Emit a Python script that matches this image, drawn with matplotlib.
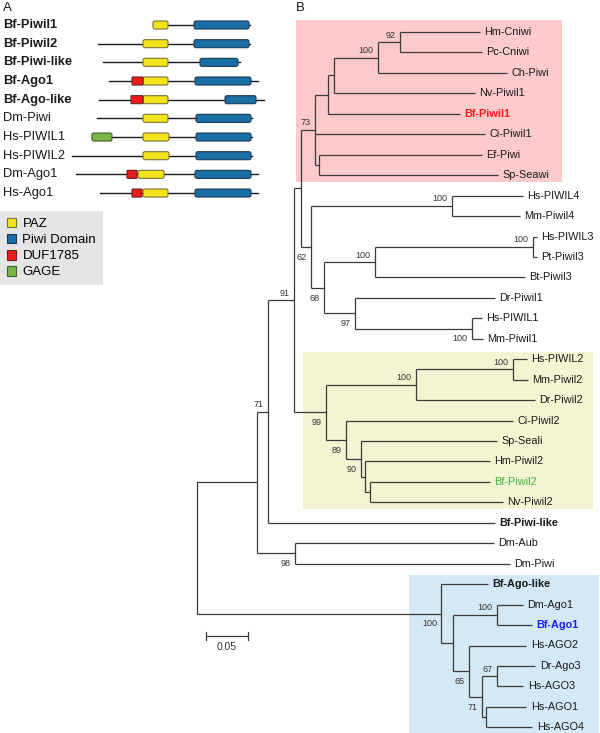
import matplotlib
matplotlib.use('Agg')
import matplotlib.pyplot as plt
from matplotlib.patches import FancyBboxPatch, Rectangle, Patch

plt.rcParams['font.family'] = ['Liberation Sans', 'DejaVu Sans']

# ---- panel A: domain architecture (positions in diagram units) ----
proteins = ['Bf-Piwil1', 'Bf-Piwil2', 'Bf-Piwi-like', 'Bf-Ago1', 'Bf-Ago-like',
            'Dm-Piwi', 'Hs-PIWIL1', 'Hs-PIWIL2', 'Dm-Ago1', 'Hs-Ago1']
bold_proteins = ['Bf-Piwil1', 'Bf-Piwil2', 'Bf-Piwi-like', 'Bf-Ago1', 'Bf-Ago-like']
seq_start = [153, 98, 103, 109, 99, 97, 92, 72, 76, 100]
seq_end = [250, 250, 240, 258, 264, 252, 252, 252, 258, 258]
paz = [(153, 168), (143, 168), (143, 168), (143, 168), (143, 168),
       (143, 168), (143, 169), (143, 169), (138, 164), (143, 168)]
piwi = [(194, 249), (194, 249), (200, 238), (195, 251), (225, 256),
        (196, 251), (196, 251), (196, 251), (195, 251), (195, 251)]
duf1785 = {'Bf-Ago1': (132, 143), 'Bf-Ago-like': (131, 143),
           'Dm-Ago1': (127, 137), 'Hs-Ago1': (132, 142)}
gage = {'Hs-PIWIL1': (92, 112)}

domain_names = ['PAZ', 'Piwi Domain', 'DUF1785', 'GAGE']
domain_colors = ['#f3e31c', '#1a6fa6', '#ee1b1b', '#7ab745']
domain_edges = ['#7d7530', '#1c3a55', '#6e1d1d', '#40602a']

# ---- panel B: neighbour-joining tree, bootstrap values as node labels ----
tree_newick = (
    "((((((((((Hm-Cniwi:0.0939,Pc-Cniwi:0.0962)92:0.0258,Ch-Piwi:0.1514)100:0.0516,"
    "Nv-Piwil1:0.1655):0.0070,Bf-Piwil1:0.1549):0.0153,Ci-Piwil1:0.1995,"
    "(Ef-Piwi:0.1913,Sp-Seawi:0.2101):0.0047)73:0.0164,"
    "((Hs-PIWIL4:0.0833,Mm-Piwil4:0.0798)100:0.1655,"
    "(((Hs-PIWIL3:0.0047,Pt-Piwil3:0.0047)100:0.1854,Bt-Piwil3:0.1761)100:0.0599,"
    "(Dr-Piwil1:0.1643,(Hs-PIWIL1:0.0117,Mm-Piwil1:0.0129)100:0.1373)97:0.0364)68:0.0153)62:0.0117):0.0082,"
    "(((Hs-PIWIL2:0.0164,Mm-Piwil2:0.0176)100:0.1138,Dr-Piwil2:0.1397)100:0.1056,"
    "(Ci-Piwil2:0.1960,(Sp-Seali:0.1596,(Hm-Piwil2:0.1467,(Bf-Piwil2:0.1408,"
    "Nv-Piwil2:0.1561):0.0059):0.0047)90:0.0176)89:0.0235)99:0.0376)91:0.0305,"
    "Bf-Piwi-like:0.2664)71:0.0129,(Dm-Aub:0.2336,Dm-Piwi:0.2523)98:0.0446):0.0704,"
    "(Bf-Ago-like:0.0552,((Dm-Ago1:0.0305,Bf-Ago1:0.0411)100:0.0516,"
    "(Hs-AGO2:0.0669,((Dr-Ago3:0.0446,Hs-AGO3:0.0305)67:0.0176,"
    "(Hs-AGO1:0.0469,Hs-AGO4:0.0540):0.0047)71:0.0153)65:0.0188):0.0141)100:0.2864);"
)
label_colors = {'Bf-Piwil1': '#ff1a1a', 'Bf-Piwil2': '#3db53d', 'Bf-Ago1': '#1a1aff'}
bold_leaves = ['Bf-Piwil1', 'Bf-Ago1', 'Bf-Piwi-like', 'Bf-Ago-like']

# clade highlights: first leaf, last leaf, colour, x-left, x-right, top pad, bottom pad
clades = [('Hm-Cniwi', 'Sp-Seawi', '#fccaca', 0.1162, 0.4284, 0.6, 0.33),
          ('Hs-PIWIL2', 'Nv-Piwil2', '#f4f4d2', 0.1244, 0.4648, 0.37, 0.33),
          ('Bf-Ago-like', 'Hs-AGO4', '#d3e9f5', 0.2488, 0.4718, 0.46, 0.33)]
scale_len = 0.05


def parse_newick(s):
    s = s.strip().rstrip(';')
    pos = 0

    def node():
        nonlocal pos
        children = []
        if s[pos] == '(':
            pos += 1
            children.append(node())
            while s[pos] == ',':
                pos += 1
                children.append(node())
            pos += 1
        start = pos
        while pos < len(s) and s[pos] not in ',():':
            pos += 1
        name = s[start:pos]
        length = 0.0
        if pos < len(s) and s[pos] == ':':
            pos += 1
            start = pos
            while pos < len(s) and s[pos] not in ',()':
                pos += 1
            length = float(s[start:pos])
        return {'name': name, 'len': length, 'children': children}

    return node()


leaves = []


def layout(n, x0):
    n['x'] = x0 + n['len']
    if not n['children']:
        n['y'] = len(leaves)
        leaves.append(n)
    else:
        for c in n['children']:
            layout(c, n['x'])
        n['y'] = (n['children'][0]['y'] + n['children'][-1]['y']) / 2


line_c = '#3a3a3a'


def draw(ax, n, parent_x, where):
    ax.plot([parent_x, n['x']], [n['y'], n['y']], color=line_c, lw=0.9,
            solid_capstyle='butt', zorder=3)
    if n['children']:
        ax.plot([n['x'], n['x']], [n['children'][0]['y'], n['children'][-1]['y']],
                color=line_c, lw=0.9, solid_capstyle='butt', zorder=3)
        if n['name'] and where != 'mid':
            dy = 5 if where == 'above' else -7.5
            ax.annotate(n['name'], (n['x'], n['y']), xytext=(-3, dy),
                        textcoords='offset points', ha='right', va='center',
                        fontsize=6.5, color='#333333', zorder=4)
        k = len(n['children'])
        for i, c in enumerate(n['children']):
            pos = 'above' if i == 0 else ('below' if i == k - 1 else 'mid')
            draw(ax, c, n['x'], pos)
    else:
        ax.annotate(n['name'], (n['x'], n['y']), xytext=(3.3, 0),
                    textcoords='offset points', ha='left', va='center',
                    fontsize=7.8, color=label_colors.get(n['name'], '#1a1a1a'),
                    fontweight='bold' if n['name'] in bold_leaves else 'normal',
                    zorder=4)


fig = plt.figure(figsize=(6, 7.33), dpi=100)

# tree axes: whole figure
axt = fig.add_axes([0, 0, 1, 1])
root = parse_newick(tree_newick)
layout(root, 0.0)
axt.set_xlim(-197 / 852, 403 / 852)
axt.set_ylim((733 - 32) / 20.45, -32 / 20.45)
axt.axis('off')

leaf_y = {l['name']: l['y'] for l in leaves}
for first, last, col, x0, x1, ptop, pbot in clades:
    y0 = leaf_y[first] - ptop
    y1 = leaf_y[last] + pbot
    axt.add_patch(Rectangle((x0, y0), x1 - x0, y1 - y0, facecolor=col,
                            edgecolor='none', zorder=1))

for i, c in enumerate(root['children']):
    draw(axt, c, root['x'], 'above' if i == 0 else 'below')
axt.plot([root['x'], root['x']], [root['children'][0]['y'], root['children'][-1]['y']],
         color=line_c, lw=0.9, zorder=3)

# scale bar
sb_x, sb_y = 0.0102, 29.54
axt.plot([sb_x, sb_x + scale_len], [sb_y, sb_y], color=line_c, lw=0.9)
for xx in (sb_x, sb_x + scale_len):
    axt.plot([xx, xx], [sb_y - 0.2, sb_y + 0.2], color=line_c, lw=0.9)
axt.text(sb_x + scale_len / 2, sb_y + 0.55, '%.2f' % scale_len, ha='center',
         va='center', fontsize=7.4, color='#333333')

# domain panel axes
axd = fig.add_axes([0, 1 - 300 / 733, 290 / 600, 300 / 733])
axd.set_xlim(0, 290)
axd.set_ylim((300 - 25) / 18.67, -25 / 18.67)
axd.axis('off')
axd.patch.set_alpha(0)

box_h = 0.43
asp = 1 / 18.67


def domain_box(ax, x0, x1, y, k, rnd=2.0):
    ax.add_patch(FancyBboxPatch((x0, y - box_h / 2), x1 - x0, box_h,
                                boxstyle='round,pad=0,rounding_size=%g' % rnd,
                                mutation_aspect=asp, facecolor=domain_colors[k],
                                edgecolor=domain_edges[k], lw=0.8, zorder=3))


for i, name in enumerate(proteins):
    axd.text(3, i, name, ha='left', va='center', fontsize=9.3, color='#1a1a1a',
             fontweight='bold' if name in bold_proteins else 'normal')
    axd.plot([seq_start[i], seq_end[i]], [i, i], color='#1a1a1a', lw=1.0, zorder=2)
    domain_box(axd, paz[i][0], paz[i][1], i, 0)
    domain_box(axd, piwi[i][0], piwi[i][1], i, 1)
    if name in duf1785:
        domain_box(axd, duf1785[name][0], duf1785[name][1], i, 2, rnd=0.8)
    if name in gage:
        domain_box(axd, gage[name][0], gage[name][1], i, 3)

handles = [Patch(facecolor=domain_colors[k], edgecolor=domain_edges[k], lw=0.8)
           for k in range(len(domain_names))]
leg = fig.legend(handles, domain_names, loc='upper left',
                 bbox_to_anchor=(0, 1 - 211 / 733), borderaxespad=0,
                 fontsize=9.5, handlelength=0.75, handleheight=0.75,
                 handletextpad=0.45, labelspacing=0.28, borderpad=0.5,
                 frameon=True, fancybox=False)
leg.get_frame().set_facecolor('#e5e5e5')
leg.get_frame().set_edgecolor('none')
leg.get_frame().set_alpha(1)

fig.text(3 / 600, 1 - 8 / 733, 'A', ha='left', va='center', fontsize=9.5, color='#1a1a1a')
fig.text(296 / 600, 1 - 8 / 733, 'B', ha='left', va='center', fontsize=9.5, color='#1a1a1a')

fig.savefig('out.png', dpi=100)
